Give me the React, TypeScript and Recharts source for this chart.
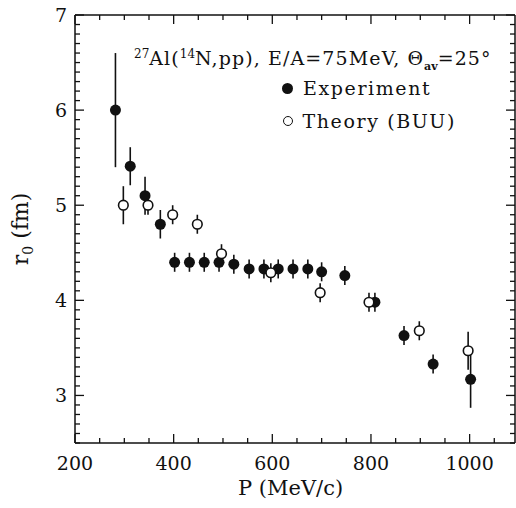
import React from "react"
import {
  ScatterChart,
  Scatter,
  XAxis,
  YAxis,
  ErrorBar,
} from "recharts"

// ── Data ──────────────────────────────────────────────────────────────────────

const expP = [282, 312, 342, 373, 402, 432, 462, 492, 522, 553, 583, 612, 642, 672, 700, 747, 808, 867, 926, 1002]
const expR = [6.0, 5.41, 5.1, 4.8, 4.4, 4.4, 4.4, 4.4, 4.38, 4.33, 4.33, 4.33, 4.33, 4.33, 4.3, 4.26, 3.98, 3.63, 3.33, 3.17]
const expErr = [0.6, 0.2, 0.2, 0.15, 0.1, 0.1, 0.1, 0.1, 0.1, 0.1, 0.1, 0.1, 0.1, 0.1, 0.1, 0.1, 0.1, 0.1, 0.1, 0.3]

const thP = [298, 348, 398, 448, 497, 597, 697, 796, 898, 997]
const thR = [5.0, 5.0, 4.9, 4.8, 4.49, 4.29, 4.08, 3.98, 3.68, 3.47]
const thErr = [0.2, 0.1, 0.1, 0.1, 0.1, 0.1, 0.1, 0.1, 0.1, 0.2]

const xTicks = [200, 250, 300, 350, 400, 450, 500, 550, 600, 650, 700, 750, 800, 850, 900, 950, 1000, 1050]
const yTicks = Array.from({ length: 46 }, (_, i) => Math.round((2.5 + i * 0.1) * 10) / 10)

const expData = expP.map((p, i) => ({ p, r: expR[i], err: expErr[i] }))
const thData = thP.map((p, i) => ({ p, r: thR[i], err: thErr[i] }))

// ── Style ─────────────────────────────────────────────────────────────────────

const FONT = "'DejaVu Serif', serif"
const INK = "#111"

// ── Ticks (drawn inside the frame) ────────────────────────────────────────────

function BottomTick({ x, y, payload }: any) {
  const major = payload.value % 200 === 0
  return (
    <g>
      <line x1={x} x2={x} y1={y} y2={y - (major ? 9 : 5)} stroke={INK} strokeWidth={1.3} />
      {major && (
        <text x={x} y={y + 27} textAnchor="middle" fontFamily={FONT} fontSize={19} fill={INK}>
          {payload.value}
        </text>
      )}
    </g>
  )
}

function TopTick({ x, y, payload }: any) {
  const major = payload.value % 200 === 0
  return <line x1={x} x2={x} y1={y} y2={y + (major ? 9 : 5)} stroke={INK} strokeWidth={1.3} />
}

function LeftTick({ x, y, payload }: any) {
  const v = payload.value
  const major = Math.abs(v - Math.round(v)) < 1e-6
  return (
    <g>
      <line x1={x} x2={x + (major ? 9 : 5)} y1={y} y2={y} stroke={INK} strokeWidth={1.3} />
      {major && (
        <text x={x - 8} y={y + 7} textAnchor="end" fontFamily={FONT} fontSize={19} fill={INK}>
          {v}
        </text>
      )}
    </g>
  )
}

function RightTick({ x, y, payload }: any) {
  const v = payload.value
  const major = Math.abs(v - Math.round(v)) < 1e-6
  return <line x1={x} x2={x - (major ? 9 : 5)} y1={y} y2={y} stroke={INK} strokeWidth={1.3} />
}

// ── Markers ───────────────────────────────────────────────────────────────────

const Filled = (props: any) => <circle cx={props.cx} cy={props.cy} r={5.5} fill={INK} />
const Open = (props: any) => (
  <circle cx={props.cx} cy={props.cy} r={4.8} fill="#fff" stroke={INK} strokeWidth={1.6} />
)

// ── Component ─────────────────────────────────────────────────────────────────

export default function App() {
  return (
    <div style={{ position: "absolute", left: 0, top: 0, width: 516, height: 508, background: "#fff", fontFamily: FONT, color: INK }}>
      <ScatterChart width={516} height={508} margin={{ top: 14, right: 0, bottom: 0, left: 0 }}>
        <XAxis
          dataKey="p"
          type="number"
          domain={[200, 1092]}
          allowDataOverflow
          ticks={xTicks}
          tick={<BottomTick />}
          tickLine={false}
          tickSize={0}
          tickMargin={0}
          height={65}
          axisLine={{ stroke: INK, strokeWidth: 1.5 }}
          interval={0}
        />
        <XAxis
          xAxisId="top"
          orientation="top"
          dataKey="p"
          type="number"
          domain={[200, 1092]}
          allowDataOverflow
          ticks={xTicks}
          tick={<TopTick />}
          tickLine={false}
          tickSize={0}
          tickMargin={0}
          height={1}
          axisLine={{ stroke: INK, strokeWidth: 1.5 }}
          interval={0}
        />
        <YAxis
          dataKey="r"
          type="number"
          domain={[2.5, 7]}
          allowDataOverflow
          ticks={yTicks}
          tick={<LeftTick />}
          tickLine={false}
          tickSize={0}
          tickMargin={0}
          width={75}
          axisLine={{ stroke: INK, strokeWidth: 1.5 }}
          interval={0}
        />
        <YAxis
          yAxisId="right"
          orientation="right"
          dataKey="r"
          type="number"
          domain={[2.5, 7]}
          allowDataOverflow
          ticks={yTicks}
          tick={<RightTick />}
          tickLine={false}
          tickSize={0}
          tickMargin={0}
          width={1}
          axisLine={{ stroke: INK, strokeWidth: 1.5 }}
          interval={0}
        />
        <Scatter data={expData} shape={Filled} isAnimationActive={false}>
          <ErrorBar dataKey="err" direction="y" width={0} stroke={INK} strokeWidth={1.6} />
        </Scatter>
        <Scatter data={thData} shape={Open} isAnimationActive={false}>
          <ErrorBar dataKey="err" direction="y" width={0} stroke={INK} strokeWidth={1.6} />
        </Scatter>
      </ScatterChart>

      {/* annotation */}
      <div style={{ position: "absolute", left: 134, top: 44, fontSize: 19, letterSpacing: 1.1, whiteSpace: "nowrap", lineHeight: "20px" }}>
        <sup style={{ fontSize: 12, letterSpacing: 0 }}>27</sup>Al(<sup style={{ fontSize: 12, letterSpacing: 0 }}>14</sup>N,pp), E/A=75MeV, Θ
        <sub style={{ fontSize: 11, fontWeight: 700, letterSpacing: 0 }}>av</sub>=25°
      </div>

      {/* legend */}
      <div style={{ position: "absolute", left: 282, top: 76, fontSize: 19, letterSpacing: 1.6, whiteSpace: "nowrap", lineHeight: "24px" }}>
        <div style={{ display: "flex", alignItems: "center" }}>
          <span style={{ display: "inline-block", width: 11, height: 11, borderRadius: "50%", background: INK, marginRight: 10 }} />
          Experiment
        </div>
        <div style={{ display: "flex", alignItems: "center", marginTop: 9 }}>
          <span style={{ display: "inline-block", width: 8, height: 8, borderRadius: "50%", border: `1.5px solid ${INK}`, marginRight: 10, marginLeft: 0.5 }} />
          Theory (BUU)
        </div>
      </div>

      {/* axis titles */}
      <div style={{ position: "absolute", left: 238, top: 476, fontSize: 21, whiteSpace: "nowrap" }}>
        P (MeV/c)
      </div>
      <div
        style={{
          position: "absolute",
          left: 22,
          top: 229,
          fontSize: 22,
          whiteSpace: "nowrap",
          transform: "translate(-50%, -50%) rotate(-90deg)",
        }}
      >
        r<sub style={{ fontSize: 14 }}>0</sub> (fm)
      </div>
    </div>
  )
}
